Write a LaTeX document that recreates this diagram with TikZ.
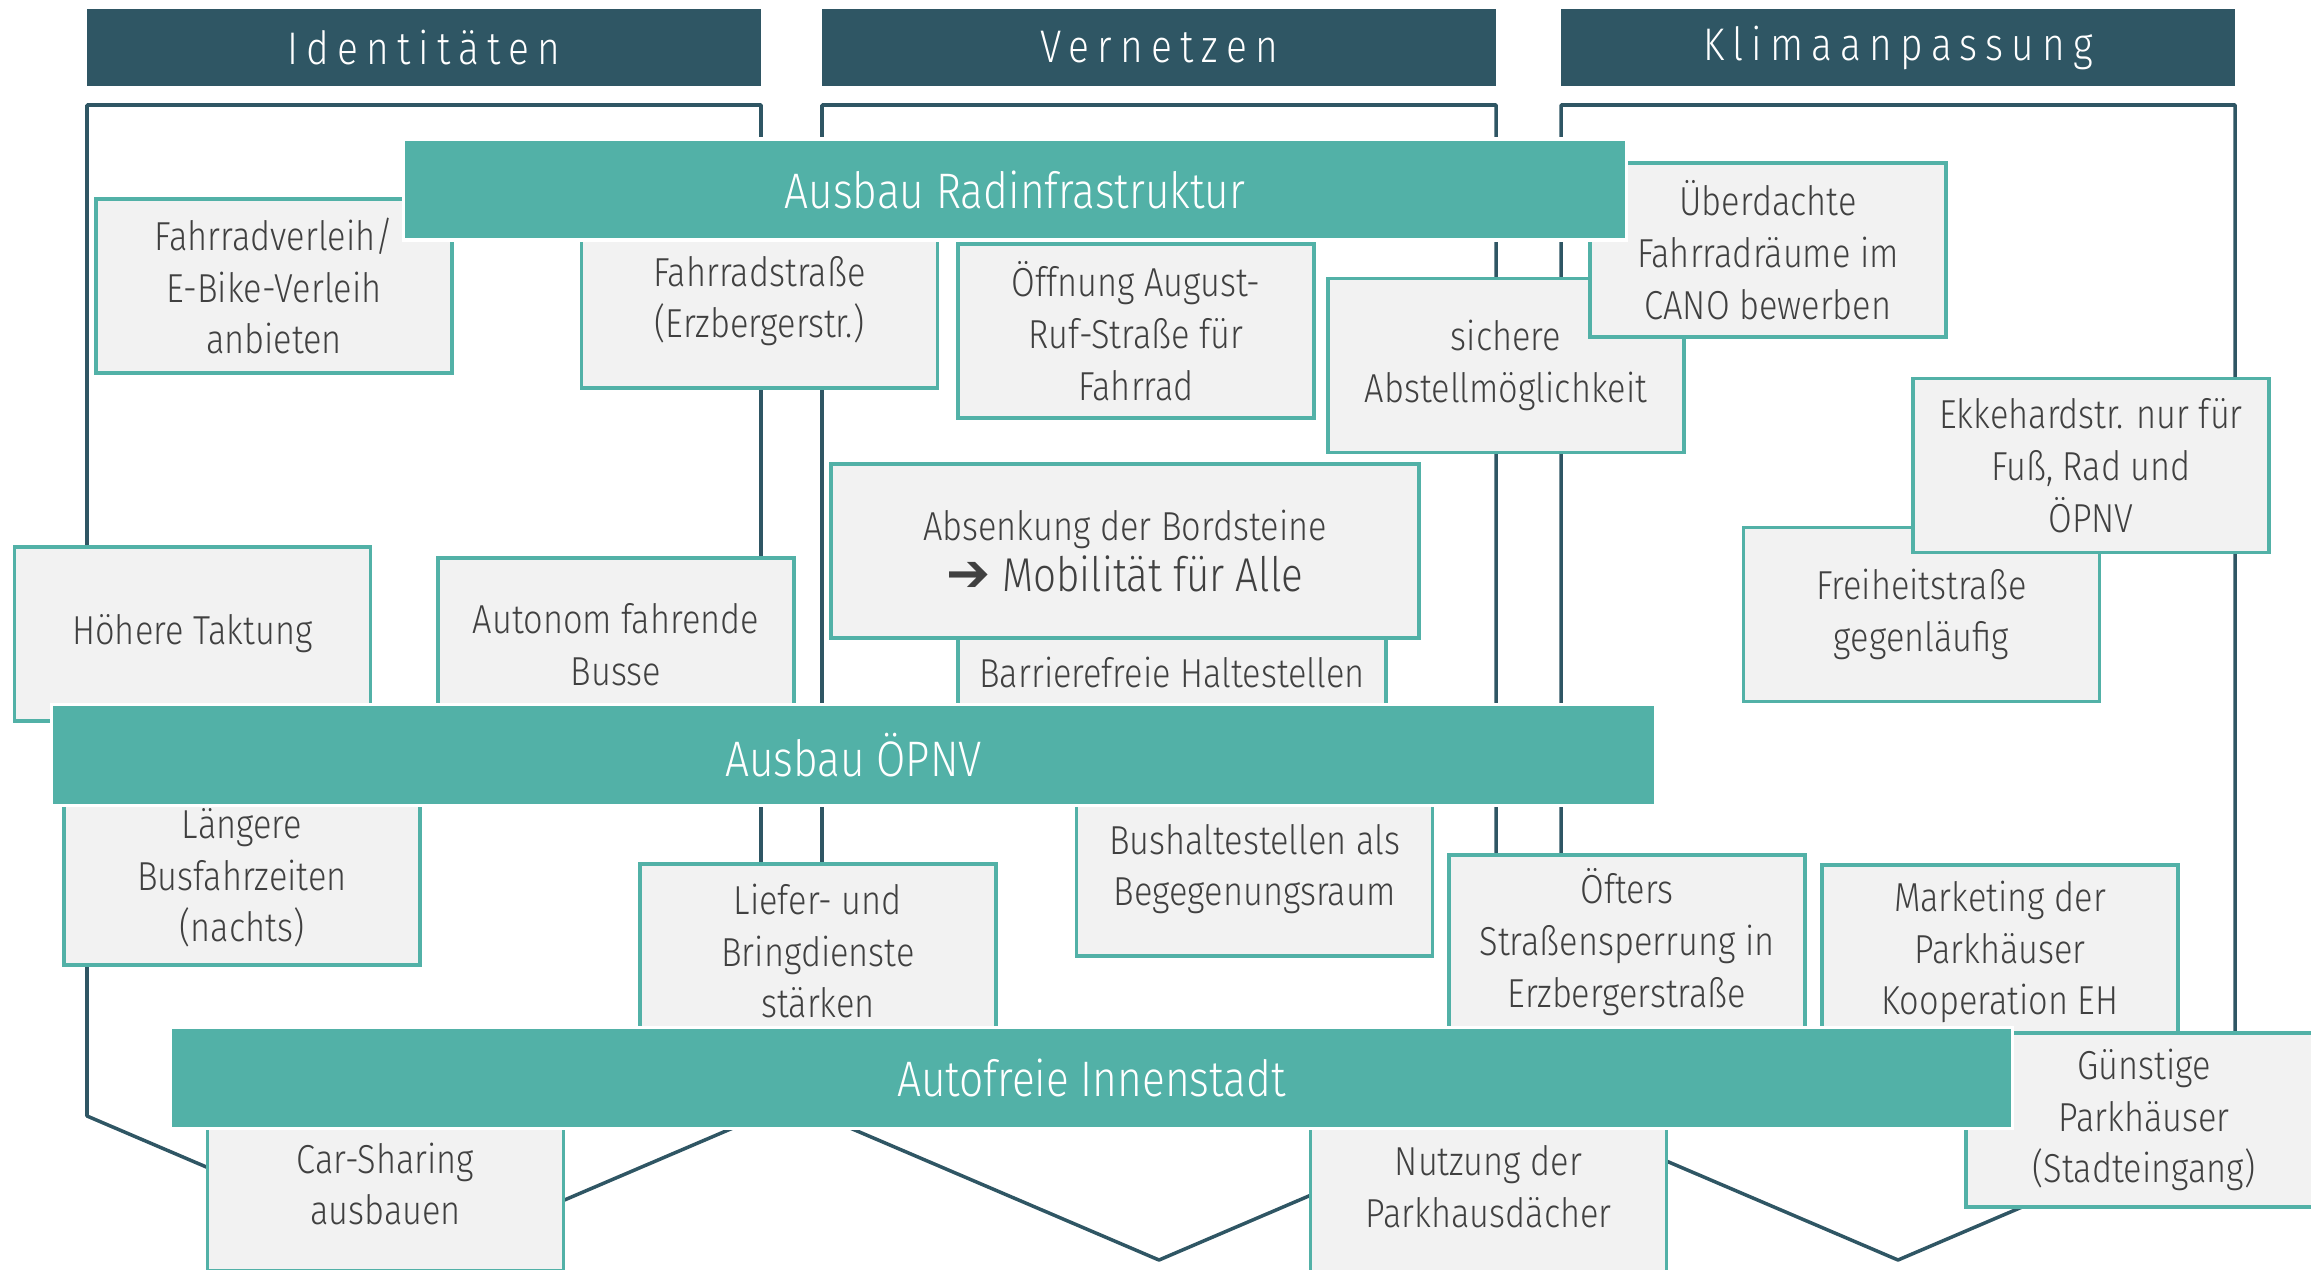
\documentclass[tikz,border=0pt]{standalone}
\usepackage{fontspec}
\setmainfont{Fira Sans Light}[FakeStretch=0.85]
\newfontfamily\arrowfont{DejaVu Sans}
\usetikzlibrary{backgrounds}

\definecolor{hdblue}{HTML}{2F5664}
\definecolor{bargreen}{HTML}{52B1A7}
\definecolor{boxgray}{HTML}{F2F2F2}
\definecolor{txtgray}{HTML}{404040}

\begin{document}
\begin{tikzpicture}[x=0.01cm,y=-0.01cm,
   hdr/.style={fill=hdblue,text=white,minimum width=6.74cm,minimum height=0.77cm,inner sep=0pt,
     font=\fontsize{13}{15}\selectfont\addfontfeatures{LetterSpace=18}},
   bar/.style={fill=bargreen,draw=white,line width=1pt,text=white,minimum height=1.01cm,inner sep=0pt,
     font=\fontsize{14.2}{17}\selectfont},
   idea/.style={fill=boxgray,draw=bargreen,line width=1pt,text=txtgray,minimum width=3.56cm,
     minimum height=1.74cm,align=center,inner sep=0pt,font=\fontsize{11.5}{14.7}\selectfont},
   colframe/.style={draw=hdblue,line width=1pt,line join=round}]

 \useasboundingbox (0,0) rectangle (2311,1269);

 %column headers
 \node[hdr] (hd_ident)   at (424,47.5)  {Identitäten};
 \node[hdr] (hd_vernetz) at (1159,47.5) {Vernetzen};
 \node[hdr] (hd_klima)   at (1898,47.5) {Klimaanpassung};

 %ideas around the bike bar
 \node[idea] (box_verleih) at (274,286)    {Fahrradverleih/\\E-Bike-Verleih\\anbieten};
 \node[idea] (box_fstr)    at (759.5,301)  {Fahrradstraße\\(Erzbergerstr.)};
 \node[idea] (box_ruf)     at (1136,331)   {Öffnung August-\\Ruf-Straße für\\Fahrrad};
 \node[idea] (box_sicher)  at (1506,365.5) {sichere\\Abstellmöglichkeit};
 \node[idea] (box_cano)    at (1768,250)   {Überdachte\\Fahrradräume im\\CANO bewerben};
 \node[idea] (box_freiheit) at (1921.5,614.5) {Freiheitstraße\\gegenläufig};
 \node[idea] (box_ekke)    at (2091,465.5) {Ekkehardstr. nur für\\Fuß, Rad und\\ÖPNV};

 %ideas around the bus bar
 \node[idea] (box_takt)    at (192.5,634)  {Höhere Taktung};
 \node[idea] (box_autonom) at (616,645)    {Autonom fahrende\\Busse};
 \node[idea, minimum width=4.28cm, minimum height=1.4cm] (box_barriere) at (1172,672) {Barrierefreie Haltestellen};
 \node[idea, minimum width=5.88cm] (box_absenk) at (1125,551)
   {Absenkung der Bordsteine\\{\fontsize{13.5}{17}\selectfont{\arrowfont\fontsize{15}{17}\selectfont ➔} Mobilität für Alle}};
 \node[idea] (box_nachts)  at (242,878)    {Längere\\Busfahrzeiten\\(nachts)};
 \node[idea] (box_bushalt) at (1254.5,869) {Bushaltestellen als\\Begegenungsraum};

 %ideas around the car free bar
 \node[idea] (box_liefer)  at (818,951)    {Liefer- und\\Bringdienste\\stärken};
 \node[idea] (box_sperr)   at (1627,942)   {Öfters\\Straßensperrung in\\Erzbergerstraße};
 \node[idea] (box_market)  at (2000,952)   {Marketing der\\Parkhäuser\\Kooperation EH};
 \node[idea] (box_guenstig) at (2144,1120) {Günstige\\Parkhäuser\\(Stadteingang)};
 \node[idea] (box_car)     at (385.5,1184) {Car-Sharing\\ausbauen};
 \node[idea] (box_dach)    at (1488.5,1187) {Nutzung der\\Parkhausdächer};

 %the three main measures
 \node[bar, minimum width=12.22cm] (bar_rad)   at (1015,189.5)  {Ausbau Radinfrastruktur};
 \node[bar, minimum width=16.03cm] (bar_oepnv) at (853.5,755)   {Ausbau ÖPNV};
 \node[bar, minimum width=18.41cm] (bar_auto)  at (1091.5,1078) {Autofreie Innenstadt};

 \begin{scope}[on background layer]
  \draw[colframe] (87,105) -- (761,105) -- (761,1116) -- (424,1260) -- (87,1116) -- cycle;
  \draw[colframe] (822,105) -- (1496,105) -- (1496,1116) -- (1159,1260) -- (822,1116) -- cycle;
  \draw[colframe] (1561,105) -- (2235,105) -- (2235,1116) -- (1898,1260) -- (1561,1116) -- cycle;
 \end{scope}

\end{tikzpicture}
\end{document}
